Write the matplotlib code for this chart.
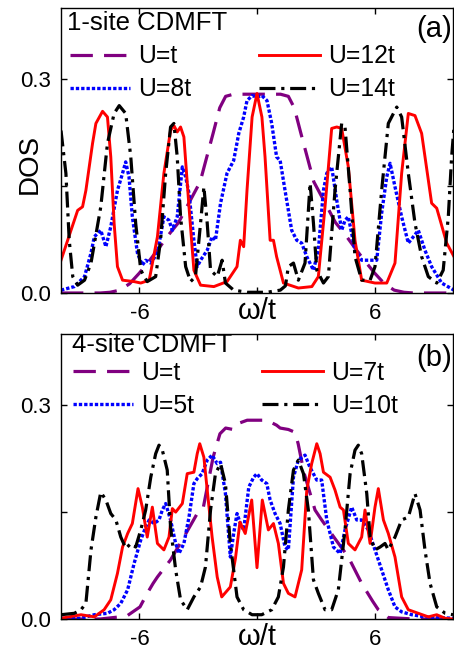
import matplotlib
matplotlib.use("Agg")
import matplotlib.pyplot as plt

plt.rcParams['font.family'] = ['Liberation Sans', 'DejaVu Sans']

# ---- panel (a): 1-site CDMFT ----
a_w_t = [-10, -8, -7.5, -7, -6.5, -6, -5.5, -5, -4.5, -4, -3.5, -2.9, -2.6, -2.24, -1.9, -1.6, -1.2,
         0, 1.2, 1.6, 1.9, 2.24, 2.6, 2.9, 3.5, 4, 4.5, 5, 5.5, 6, 6.5, 7, 7.5, 8, 10]
a_d_t = [0, 0, 0.001, 0.004, 0.013, 0.028, 0.045, 0.063, 0.082, 0.099, 0.125, 0.156, 0.187, 0.224, 0.26, 0.276, 0.279,
         0.279, 0.279, 0.276, 0.26, 0.224, 0.187, 0.156, 0.125, 0.099, 0.082, 0.063, 0.045, 0.028, 0.013, 0.004, 0.001, 0, 0]

a_w_8t = [-10.0, -9.32, -8.8, -8.47, -8.3, -7.97, -7.71, -7.46, -7.12, -6.86, -6.7, -6.53, -6.36, -6.1, -5.85, -5.68,
          -5.42, -5.08, -4.75, -4.49, -4.32, -4.07, -3.81, -3.64, -3.47, -3.22, -3.05, -2.88, -2.54, -2.29, -2.12,
          -1.86, -1.53, -1.19, -0.93, -0.68, -0.51, -0.25, 0.0, 0.25, 0.51, 0.75, 1.0, 1.18, 1.43, 1.77, 2.03, 2.28,
          2.54, 2.88, 3.13, 3.39, 3.56, 3.81, 4.07, 4.32, 4.49, 4.66, 5.0, 5.34, 5.77, 6.11, 6.36, 6.62, 6.79, 7.04,
          7.38, 7.72, 7.98, 8.23, 8.57, 8.91, 9.42, 10.05]
a_d_8t = [0.004, 0.009, 0.023, 0.056, 0.079, 0.088, 0.065, 0.093, 0.144, 0.168, 0.184, 0.163, 0.107, 0.056, 0.039, 0.046,
          0.042, 0.056, 0.107, 0.102, 0.088, 0.107, 0.177, 0.163, 0.14, 0.074, 0.037, 0.046, 0.06, 0.079, 0.074,
          0.126, 0.168, 0.186, 0.224, 0.247, 0.27, 0.277, 0.275, 0.277, 0.27, 0.238, 0.191, 0.186, 0.144, 0.088, 0.074, 0.07,
          0.051, 0.032, 0.06, 0.144, 0.168, 0.177, 0.13, 0.088, 0.102, 0.107, 0.06, 0.046, 0.046, 0.046, 0.112, 0.163, 0.182, 0.149,
          0.107, 0.07, 0.079, 0.088, 0.06, 0.037, 0.014, 0.004]

a_w_12t = [-10.0, -9.15, -8.9, -8.73, -8.39, -8.22, -7.88, -7.63, -7.46, -7.29, -7.12, -6.86, -6.27, -5.93, -5.5, -5.08,
           -4.75, -4.41, -4.24, -4.07, -3.9, -3.73, -3.47, -3.22, -2.88, -2.2, -1.53, -1.02, -0.85, -0.68, -0.51, -0.25,
           0.0, 0.25, 0.41, 0.67, 0.84, 1.0, 1.35, 2.11, 2.8, 3.13, 3.47, 3.81, 4.07, 4.32, 4.66, 5.0, 5.34, 6.02, 6.62,
           7.04, 7.38, 7.72, 8.06, 8.4, 8.91, 9.17, 9.68, 10.05]
a_d_12t = [0.046, 0.116, 0.121, 0.144, 0.21, 0.238, 0.255, 0.247, 0.191, 0.098, 0.037, 0.018, 0.016, 0.014, 0.018, 0.079,
           0.168, 0.228, 0.235, 0.226, 0.233, 0.219, 0.121, 0.032, 0.011, 0.009, 0.016, 0.037, 0.074, 0.065, 0.144, 0.247,
           0.28, 0.247, 0.191, 0.074, 0.074, 0.051, 0.014, 0.007, 0.009, 0.023, 0.121, 0.231, 0.233, 0.231, 0.177, 0.074, 0.018, 0.014, 0.014,
           0.042, 0.168, 0.252, 0.249, 0.224, 0.126, 0.119, 0.07, 0.051]

a_w_14t = [-10.0, -9.75, -9.58, -9.4, -9.15, -8.8, -8.47, -7.97, -7.63, -7.29, -7.03, -6.7, -6.44, -6.19, -5.93, -5.6,
           -5.17, -4.92, -4.66, -4.41, -4.24, -4.07, -3.9, -3.64, -3.39, -3.14, -2.88, -2.71, -2.54, -2.37, -2.03, -1.78,
           -1.61, -1.19, -0.5, 0.5, 1.19, 1.45, 1.6, 1.86, 2.11, 2.45, 2.71, 2.88, 3.05, 3.39, 3.64, 3.98, 4.32, 4.49,
           4.75, 5.0, 5.34, 5.77, 6.02, 6.36, 6.7, 7.13, 7.38, 7.72, 8.06, 8.4, 8.74, 9.17, 9.5, 9.76, 9.93, 10.05]
a_d_14t = [0.228, 0.168, 0.074, 0.023, 0.011, 0.018, 0.042, 0.121, 0.21, 0.252, 0.263, 0.252, 0.191, 0.098, 0.032, 0.016,
           0.023, 0.074, 0.168, 0.233, 0.238, 0.191, 0.107, 0.037, 0.016, 0.023, 0.098, 0.149, 0.098, 0.032, 0.023, 0.046,
           0.014, 0.004, 0.001, 0.001, 0.004, 0.01, 0.037, 0.042, 0.018, 0.042, 0.154, 0.098, 0.032, 0.014, 0.023, 0.144, 0.238, 0.233,
           0.144, 0.051, 0.018, 0.018, 0.037, 0.144, 0.238, 0.261, 0.247, 0.168, 0.098, 0.051, 0.023, 0.014, 0.032, 0.107, 0.191, 0.233]

# ---- panel (b): 4-site CDMFT ----
b_w_t = [-10, -8, -7, -6.6, -5.97, -5.6, -5.3, -5.08, -4.41, -3.73, -3.05, -2.75, -2.24, -1.89, -1.6, -1.22, -1.0,
         -0.5, 0, 0.5, 1.0, 1.18, 1.6, 1.94, 2.1, 2.4, 2.96, 3.3, 4.0, 4.66, 5.34, 5.9, 6.19, 6.7, 8, 10]
b_d_t = [0, 0, 0.003, 0.005, 0.017, 0.036, 0.05, 0.059, 0.083, 0.115, 0.148, 0.155, 0.227, 0.26, 0.268, 0.266, 0.274,
         0.279, 0.279, 0.279, 0.272, 0.268, 0.266, 0.262, 0.246, 0.205, 0.153, 0.139, 0.112, 0.087, 0.05, 0.025, 0.013, 0.002, 0, 0]

b_w_5t = [-10, -9, -8.3, -7.63, -7.29, -6.95, -6.6, -6.27, -5.93, -5.68, -5.5, -5.25, -5.0, -4.83, -4.66, -4.41, -4.15,
          -3.98, -3.73, -3.47, -3.22, -3.05, -2.8, -2.54, -2.29, -2.03, -1.86, -1.61, -1.36, -1.19, -1.02, -0.85, -0.68,
          -0.42, -0.17, 0.0, 0.24, 0.5, 0.67, 0.92, 1.18, 1.43, 1.6, 1.86, 2.11, 2.45, 2.7, 3.05, 3.3, 3.56, 3.9, 4.24,
          4.49, 4.83, 5.09, 5.34, 5.68, 6.02, 6.36, 6.7, 7.04, 7.38, 7.9, 8.57, 10]
b_d_5t = [0.001, 0.001, 0.006, 0.008, 0.013, 0.022, 0.041, 0.078, 0.111, 0.129, 0.139, 0.134, 0.139, 0.153, 0.162, 0.139, 0.106,
          0.092, 0.106, 0.143, 0.19, 0.197, 0.204, 0.223, 0.23, 0.218, 0.22, 0.176, 0.087, 0.12, 0.148, 0.134, 0.125,
          0.185, 0.199, 0.204, 0.195, 0.19, 0.167, 0.148, 0.134, 0.101, 0.097, 0.199, 0.223, 0.23, 0.213, 0.195, 0.195, 0.139, 0.101, 0.092,
          0.125, 0.157, 0.139, 0.139, 0.125, 0.097, 0.069, 0.041, 0.017, 0.01, 0.006, 0.003, 0.001]

b_w_7t = [-10, -8.98, -8.3, -7.8, -7.46, -7.12, -6.86, -6.6, -6.36, -6.07, -5.85, -5.6, -5.34, -5.08, -4.75, -4.49, -4.32,
          -4.15, -3.81, -3.56, -3.22, -3.05, -2.92, -2.71, -2.54, -2.29, -2.03, -1.8, -1.36, -1.1, -0.87, -0.6, -0.27,
          0, 0.27, 0.58, 0.84, 1.09, 1.35, 1.6, 1.94, 2.28, 2.54, 2.79, 3.05, 3.22, 3.39, 3.73, 3.98, 4.24, 4.41, 4.66,
          5.0, 5.34, 5.51, 5.77, 6.02, 6.19, 6.45, 6.7, 7.04, 7.38, 7.72, 8.23, 8.74, 9.17, 9.6, 10]
b_d_7t = [0.001, 0.006, 0.003, 0.013, 0.027, 0.064, 0.101, 0.12, 0.134, 0.183, 0.157, 0.115, 0.157, 0.106, 0.097, 0.115, 0.155,
          0.15, 0.162, 0.204, 0.206, 0.232, 0.246, 0.227, 0.181, 0.115, 0.059, 0.031, 0.045, 0.085, 0.136, 0.12, 0.167,
          0.072, 0.167, 0.125, 0.134, 0.106, 0.05, 0.036, 0.031, 0.069, 0.181, 0.218, 0.246, 0.232, 0.206, 0.199, 0.181, 0.157, 0.153, 0.106,
          0.097, 0.115, 0.153, 0.106, 0.157, 0.183, 0.139, 0.12, 0.087, 0.031, 0.013, 0.008, 0.003, 0.006, 0.001, 0]

b_w_10t = [-10, -9.32, -8.98, -8.73, -8.47, -8.22, -7.97, -7.71, -7.46, -7.2, -6.95, -6.69, -6.44, -6.19, -5.93, -5.68,
           -5.42, -5.17, -5.0, -4.83, -4.58, -4.41, -4.15, -3.9, -3.56, -3.22, -2.88, -2.63, -2.37, -2.12, -1.86, -1.61,
           -1.36, -1.02, -0.68, -0.25, 0.24, 0.75, 1.09, 1.35, 1.6, 1.86, 2.11, 2.37, 2.62, 2.88, 3.13, 3.47, 3.81, 4.15,
           4.49, 4.75, 5.0, 5.17, 5.34, 5.6, 5.77, 6.02, 6.28, 6.53, 6.7, 7.04, 7.38, 7.72, 8.06, 8.32, 8.57, 8.83, 9.17,
           9.6, 10]
b_d_10t = [0.006, 0.008, 0.013, 0.022, 0.097, 0.143, 0.178, 0.167, 0.148, 0.139, 0.115, 0.099, 0.106, 0.101, 0.125, 0.153,
           0.199, 0.232, 0.244, 0.237, 0.209, 0.129, 0.069, 0.027, 0.013, 0.031, 0.045, 0.073, 0.153, 0.204, 0.218, 0.19,
           0.106, 0.031, 0.013, 0.006, 0.006, 0.013, 0.031, 0.073, 0.153, 0.209, 0.223, 0.204, 0.153, 0.055, 0.036, 0.013, 0.013, 0.041,
           0.125, 0.204, 0.237, 0.244, 0.232, 0.176, 0.115, 0.097, 0.101, 0.106, 0.097, 0.115, 0.139, 0.143, 0.176, 0.153, 0.097, 0.05, 0.017,
           0.008, 0.006]

purple = '#800080'
ls_dash = (0, (7, 3.5))
ls_dot = (0, (1, 0.6))
ls_dashdot = (0, (5, 1.8, 1, 1.8))

fig = plt.figure(figsize=(4.54, 6.56), dpi=100)
ax1 = fig.add_axes([61 / 454, 1 - 293 / 656, 392 / 454, 285 / 656])
ax2 = fig.add_axes([61 / 454, 1 - 619 / 656, 392 / 454, 285 / 656])

panels = [
    (ax1, '1-site CDMFT', '(a)',
     [(a_w_t, a_d_t, 'U=t'), (a_w_8t, a_d_8t, 'U=8t'), (a_w_12t, a_d_12t, 'U=12t'), (a_w_14t, a_d_14t, 'U=14t')],
     (0.022, 0.872), (0.016, 0.99), 0.975),
    (ax2, '4-site CDMFT', '(b)',
     [(b_w_t, b_d_t, 'U=t'), (b_w_5t, b_d_5t, 'U=5t'), (b_w_7t, b_d_7t, 'U=7t'), (b_w_10t, b_d_10t, 'U=10t')],
     (0.03, 0.905), (0.028, 1.005), 0.965),
]

for ax, title, tag, series, legpos, titlepos, tagy in panels:
    (w0, d0, l0), (w1, d1, l1), (w2, d2, l2), (w3, d3, l3) = series
    ax.plot(w0, d0, color=purple, lw=2.3, ls=ls_dash, label=l0)
    ax.plot(w1, d1, color='#0000ff', lw=2.4, ls=ls_dot, label=l1)
    ax.plot(w2, d2, color='#ff0000', lw=2.1, ls='-', label=l2)
    ax.plot(w3, d3, color='black', lw=2.3, ls=ls_dashdot, label=l3)

    ax.set_xlim(-10, 10)
    ax.set_ylim(0, 0.4)
    ax.set_xticks([-6, 0, 6])
    ax.set_xticklabels(['-6', '', '6'])
    ax.set_yticks([0.0, 0.3])
    ax.set_yticks([0.15], minor=True)
    ax.set_yticklabels(['0.0', '0.3'])
    ax.tick_params(which='both', direction='in', top=True, right=True, length=4, width=1,
                   labelsize=16, pad=7)
    for s in ax.spines.values():
        s.set_linewidth(1.0)

    ax.set_xlabel('ω/t', fontsize=21)
    ax.xaxis.set_label_coords(0.5, -0.015)
    ax.xaxis.label.set_va('top')

    ax.text(titlepos[0], titlepos[1], title, transform=ax.transAxes, ha='left', va='top', fontsize=18.5)
    ax.text(0.997, tagy, tag, transform=ax.transAxes, ha='right', va='top', fontsize=21)

    ax.legend(loc='upper left', bbox_to_anchor=legpos, ncol=2, frameon=False, fontsize=17.8,
              handlelength=2.45, handletextpad=0.33, columnspacing=2.75, labelspacing=0.36,
              borderpad=0, borderaxespad=0)

ax1.set_ylabel('DOS', fontsize=20)
ax1.yaxis.set_label_coords(-0.046, 0.453)

fig.savefig('out.png', dpi=100)
